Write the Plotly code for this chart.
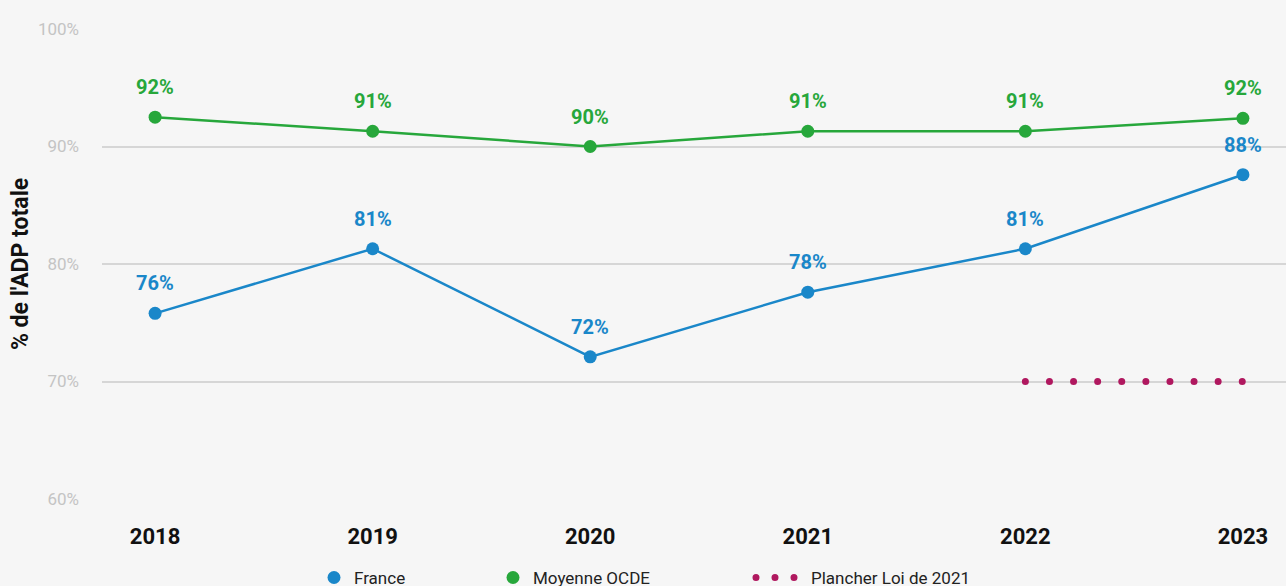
import plotly.graph_objects as go

years = [2018, 2019, 2020, 2021, 2022, 2023]
france = [75.8, 81.3, 72.1, 77.6, 81.3, 87.6]
ocde = [92.5, 91.3, 90.0, 91.3, 91.3, 92.4]
france_labels = ["76%", "81%", "72%", "78%", "81%", "88%"]
ocde_labels = ["92%", "91%", "90%", "91%", "91%", "92%"]
plancher_years = [2022, 2023]
plancher = [70, 70]
y_ticks = [60, 70, 80, 90, 100]
y_ticktext = ["60%", "70%", "80%", "90%", "100%"]

BLUE = "#1a87c9"
GREEN = "#27a73b"
MAGENTA = "#b0185f"
BG = "#f6f6f6"
FONT = "Roboto"

fig = go.Figure()

# series (legend drawn by marker-only entries below)
fig.add_trace(go.Scatter(
    x=years, y=ocde, mode="lines+markers", showlegend=False,
    line=dict(color=GREEN, width=2.5), marker=dict(color=GREEN, size=13),
))
fig.add_trace(go.Scatter(
    x=years, y=france, mode="lines+markers", showlegend=False,
    line=dict(color=BLUE, width=2.5), marker=dict(color=BLUE, size=13),
))
fig.add_trace(go.Scatter(
    x=plancher_years, y=plancher, mode="lines", name="Plancher Loi de 2021",
    line=dict(color=MAGENTA, width=7, dash="0px,24.1px"), legend="legend3",
))

# legend entries
fig.add_trace(go.Scatter(
    x=[None], y=[None], mode="markers", name="France",
    marker=dict(color=BLUE, size=13), legend="legend",
))
fig.add_trace(go.Scatter(
    x=[None], y=[None], mode="markers", name="Moyenne OCDE",
    marker=dict(color=GREEN, size=13), legend="legend2",
))

# value labels
for xs, ys, labels, color in [(years, ocde, ocde_labels, GREEN),
                              (years, france, france_labels, BLUE)]:
    for x, y, t in zip(xs, ys, labels):
        fig.add_annotation(
            x=x, y=y, text=f"<b>{t}</b>", showarrow=False, yshift=30,
            font=dict(family=FONT, size=20, color=color),
        )

legend_style = dict(
    orientation="h", yanchor="middle", y=-0.168, xanchor="left",
    bgcolor="rgba(0,0,0,0)", font=dict(family=FONT, size=17, color="#222"),
)

fig.update_layout(
    width=1286, height=586,
    paper_bgcolor=BG, plot_bgcolor=BG,
    margin=dict(l=102, r=0, t=29, b=87, autoexpand=False),
    font=dict(family=FONT),
    legend=dict(legend_style, x=(314 - 102) / 1184),
    legend2=dict(legend_style, x=(493 - 102) / 1184),
    legend3=dict(legend_style, x=(751 - 102) / 1184, itemwidth=50),
    xaxis=dict(
        range=[2017.756, 2023.198], tickvals=years, showgrid=False,
        zeroline=False, showline=False, ticklabelstandoff=22,
        tickfont=dict(family=FONT, size=22, color="#111", weight="bold"),
    ),
    yaxis=dict(
        range=[60, 100], tickvals=y_ticks, ticktext=y_ticktext,
        showgrid=True, gridcolor="#d6d6d6", gridwidth=1.5, zeroline=False,
        showline=False, ticklabelstandoff=22,
        tickfont=dict(family=FONT, size=17, color="#c4c4c4"),
        title=dict(text="<b>% de l'ADP totale</b>", standoff=2,
                   font=dict(family=FONT, size=23, color="#111")),
    ),
)

# no page margin; round caps so the dashed floor is drawn as dots
post = """
document.body.style.margin = '0';
document.querySelectorAll('path').forEach(function (p) {
  var d = p.style.strokeDasharray || '';
  if (d.indexOf('24.1') >= 0) {
    p.style.strokeLinecap = 'round';
    if (p.closest('[class*="legend"]')) {
      p.style.strokeDasharray = '0px,19px';
    }
  }
});
"""

fig.write_html("out.html", post_script=post,
               config={"displayModeBar": False})
